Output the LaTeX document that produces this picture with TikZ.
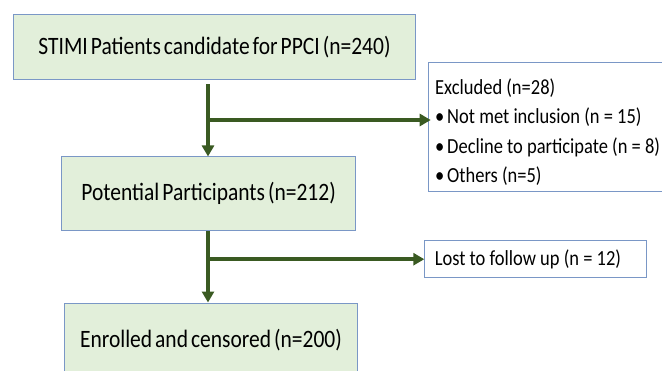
\documentclass[tikz,border=0pt]{standalone}
\usepackage{fontspec}
\setmainfont{Carlito}[FakeStretch=0.86]
\usepackage{tikz}
\usetikzlibrary{positioning, arrows.meta}
\definecolor{boxfill}{HTML}{E2EFDA}
\definecolor{boxline}{HTML}{7A97C6}
\definecolor{flow}{HTML}{3A5A22}
\newcommand{\stagefont}{\fontsize{25}{30}\selectfont\spaceskip 3pt\relax}

\begin{document}
\begin{tikzpicture}[x=1pt, y=1pt, font=\fontsize{21.5}{29.5}\selectfont,
  stage/.style={rectangle, draw=boxline, line width=1pt, fill=boxfill, align=center, inner sep=0pt, font=\stagefont},
  side/.style={rectangle, draw=boxline, line width=1pt, fill=white, align=flush left, anchor=north west, inner xsep=7pt, inner ysep=0pt},
  flowarrow/.style={draw=flow, line width=4pt, -{Triangle[width=12pt, length=11pt]}}]
  \clip (0,0) rectangle (662,-370);
  % nodes
  \node [stage, minimum width=402pt, minimum height=64.6pt] (screened) at (214.5,-47) {STIMI Patients candidate for PPCI (n=240)};
  \node [stage, minimum width=294pt, minimum height=73.7pt] (potential) at (208.6,-193.8) {Potential Participants (n=212)};
  \node [stage, minimum width=293.5pt, minimum height=74pt] (enrolled) at (211,-340) {Enrolled and censored (n=200)};
  \node [side, text width=290pt, minimum height=129.3pt] (excluded) at (427.7,-61.7)
    {\rule{0pt}{26pt}Excluded (n=28)\\
     \makebox[12pt][l]{\textbullet}Not met inclusion (n = 15)\\
     \makebox[12pt][l]{\textbullet}Decline to participate (n = 8)\\
     \makebox[12pt][l]{\textbullet}Others (n=5)};
  \node [side, text width=201.4pt, inner xsep=10pt, minimum height=37pt, anchor=west] (lost) at (424.3,-259.2) {Lost to follow up (n = 12)};
  \coordinate (start) at (208,-84);
  \coordinate (split1) at (208,-120);
  \coordinate (split2) at (208,-259.2);

  % edges
  \draw [flowarrow] (start) -- (potential.north -| start);
  \draw [flowarrow, shorten >=-3pt] (split1) -- (excluded.west |- split1);
  \draw [flowarrow] (potential.south -| start) -- (enrolled.north -| start);
  \draw [flowarrow] (split2) -- (lost.west);
\end{tikzpicture}
\end{document}
